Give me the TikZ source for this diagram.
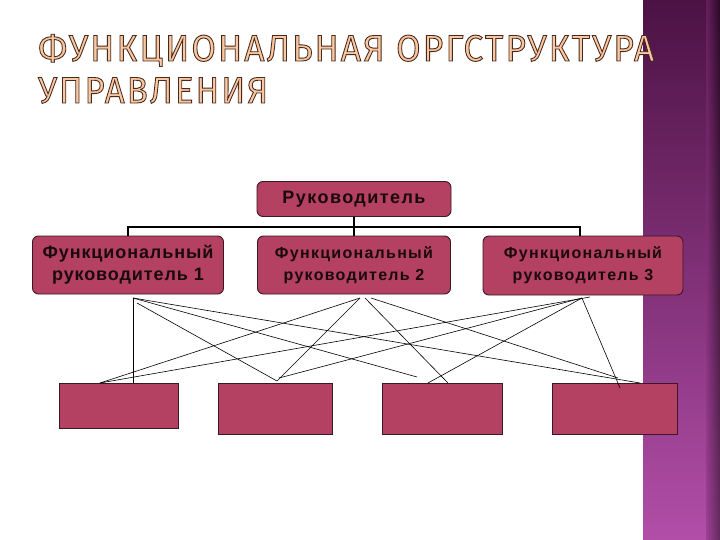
\documentclass[tikz,border=0pt]{standalone}
\usepackage{fontspec}
\setmainfont{Liberation Sans}
\newfontfamily\titlefont[LetterSpace=6]{Fira Sans}
\newfontfamily\spacedA[LetterSpace=8]{Liberation Sans}
\newfontfamily\spacedB[LetterSpace=5]{Liberation Sans}
\usetikzlibrary{calc}
\definecolor{boxc}{HTML}{B44062}
\definecolor{edgec}{HTML}{3A1828}
\definecolor{titlefill}{HTML}{F8C8A2}
\definecolor{bandtop}{HTML}{4C1244}
\definecolor{bandmid}{HTML}{86307C}
\definecolor{bandbot}{HTML}{B24EA8}
\definecolor{txt}{HTML}{1A0A0E}
\newcommand\outl[1]{\special{pdf:literal direct 2 Tr 0.9 w 0.29 0.16 0.11 RG}#1\special{pdf:literal direct 0 Tr}}
\newcommand\mytitle[4]{%
  \node[anchor=base west,inner sep=0,text=titlefill] (#1) at (#2)
      {\resizebox{#3}{\height}{\titlefont\fontsize{37}{40}\selectfont\outl{#4}}};}
\begin{document}
\begin{tikzpicture}[x=1pt,y=-1pt,
  rbox/.style={draw=edgec,line width=0.9pt,fill=boxc,rounded corners=6pt,
    inner sep=0,align=center,text=txt},
  sbox/.style={draw=edgec,line width=0.8pt,fill=boxc,inner sep=0},
  tree/.style={line width=1.6pt,black},
  cross/.style={line width=0.6pt,black}]
\useasboundingbox (0,0) rectangle (720,540);
\fill[white] (0,0) rectangle (720,540);
% side band
\shade[top color=bandtop,middle color=bandmid,bottom color=bandbot] (643,0) rectangle (720,540);
\shade[left color=bandmid,right color=black,opacity=0.45] (706,0) rectangle (720,540);
% title
\mytitle{t1}{38,61}{616pt}{ФУНКЦИОНАЛЬНАЯ ОРГСТРУКТУРА}
\mytitle{t2}{38,103}{230pt}{УПРАВЛЕНИЯ}
% boxes
\node[rbox,minimum width=194pt,minimum height=35pt,font=\spacedA\bfseries\fontsize{18}{20}\selectfont] (boss) at (354,199) {Руководитель};
\node[rbox,minimum width=191pt,minimum height=58pt,font=\spacedB\bfseries\fontsize{18}{22}\selectfont] (f1) at (128,265) {Функциональный\\руководитель 1};
\node[rbox,minimum width=193pt,minimum height=58pt,font=\spacedA\bfseries\fontsize{16}{22}\selectfont] (f2) at (354,265) {Функциональный\\руководитель 2};
\node[rbox,minimum width=200pt,minimum height=59pt,font=\spacedA\bfseries\fontsize{16}{22}\selectfont] (f3) at (583,265.5) {Функциональный\\руководитель 3};
\node[sbox,minimum width=119pt,minimum height=45pt] (b1) at (118.5,405.5) {};
\node[sbox,minimum width=114pt,minimum height=51pt] (b2) at (275,408.5) {};
\node[sbox,minimum width=120pt,minimum height=51pt] (b3) at (442,408.5) {};
\node[sbox,minimum width=125pt,minimum height=51pt] (b4) at (614.5,408.5) {};
% tree connectors
\coordinate (bar) at (0,227);
\coordinate (f3top) at (580,236);
\draw[tree] (boss.south) -- (f2.north);
\draw[tree] (f1.north) -- (f1.north |- bar) -- (f3top |- bar) -- (f3top);
% crossing lines
\coordinate (s1) at (133,298);
\coordinate (s1b) at (137,303);
\coordinate (s2) at (360,298);
\coordinate (s2b) at (365,298);
\coordinate (s2c) at (371,298);
\coordinate (s3) at (582,298);
\coordinate (s3b) at (590,297);
\coordinate (u1) at (100,383);
\coordinate (u1v) at (133,383);
\coordinate (u2) at (277,381);
\coordinate (u2b) at (279,378);
\coordinate (u3a) at (417,377);
\coordinate (u3b) at (428,383);
\coordinate (u3c) at (448,383);
\coordinate (u4a) at (640,383);
\coordinate (u4b) at (620,388);
\coordinate (u4c) at (618,378);
\draw[cross] (s1) -- (u1v);
\draw[cross] (s1b) -- (u2);
\draw[cross] (s1) -- (u3a);
\draw[cross] (s1) -- (u4a);
\draw[cross] (s2) -- (u1);
\draw[cross] (s2) -- (u2);
\draw[cross] (s2b) -- (u3c);
\draw[cross] (s2c) -- (u4c);
\draw[cross] (s3b) -- (u1);
\draw[cross] (s3) -- (u2b);
\draw[cross] (s3) -- (u3b);
\draw[cross] (s3) -- (u4b);
\end{tikzpicture}
\end{document}
